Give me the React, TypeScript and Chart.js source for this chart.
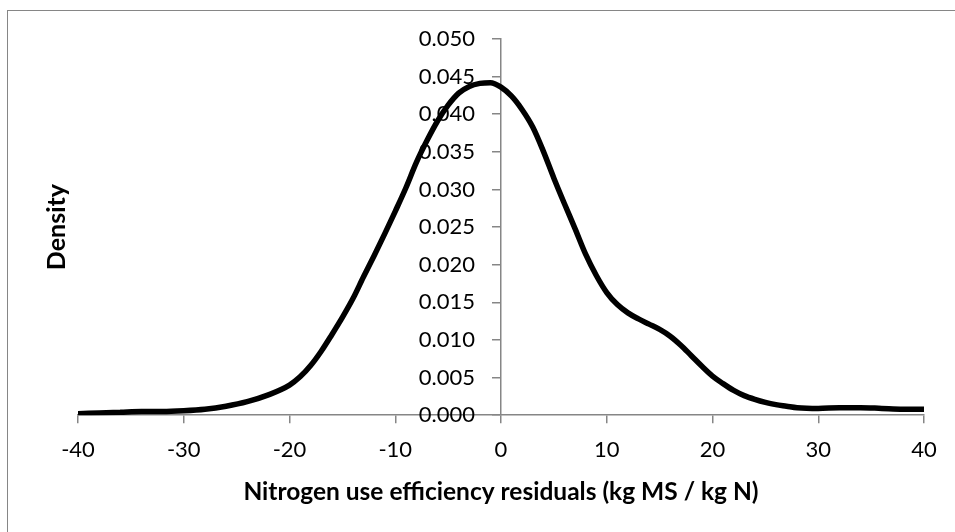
import React, { useEffect, useRef } from "react";
import { Chart, registerables } from "chart.js";

Chart.register(...registerables);

// Residual values (kg MS / kg N)
const residuals: number[] = [
  -40, -38, -36, -34, -32, -30, -28, -26, -24, -22, -20, -19, -18, -17, -16, -15,
  -14, -13, -12, -11, -10, -9, -8, -7, -6, -5, -4, -3, -2, -1, 0, 1, 2, 3, 4, 5, 6,
  7, 8, 9, 10, 11, 12, 13, 14, 15, 16, 17, 18, 19, 20, 21, 22, 23, 24, 25, 26, 27,
  28, 30, 32, 34, 36, 38, 40,
];

// Kernel density estimate
const density: number[] = [
  0.0002, 0.0003, 0.0004, 0.0005, 0.0005, 0.0006, 0.0008, 0.0012, 0.0018, 0.0027,
  0.004, 0.0051, 0.0066, 0.0085, 0.0107, 0.013, 0.0155, 0.0184, 0.0212, 0.0241,
  0.0271, 0.0302, 0.0336, 0.0365, 0.0391, 0.0412, 0.0428, 0.0437, 0.0441, 0.0442,
  0.0436, 0.0424, 0.0406, 0.0383, 0.0351, 0.0315, 0.0281, 0.0248, 0.0214, 0.0186,
  0.0163, 0.0147, 0.0136, 0.0128, 0.0121, 0.0114, 0.0105, 0.0093, 0.0079, 0.0065,
  0.0052, 0.0042, 0.0033, 0.0026, 0.0021, 0.0017, 0.0014, 0.0012, 0.001, 0.0009,
  0.001, 0.001, 0.0009, 0.0008, 0.0008,
];

const xTicks: number[] = [-40, -30, -20, -10, 0, 10, 20, 30, 40];
const yTicks: number[] = [0, 0.005, 0.01, 0.015, 0.02, 0.025, 0.03, 0.035, 0.04, 0.045, 0.05];

const xTitle = "Nitrogen use efficiency residuals (kg MS / kg N)";
const yTitle = "Density";

const FONT = "Lato";
const AXIS_GRAY = "#868686";

export default function App() {
  const canvasRef = useRef<HTMLCanvasElement>(null);

  useEffect(() => {
    if (!canvasRef.current) return;
    const chart = new Chart(canvasRef.current, {
      type: "line",
      data: {
        datasets: [
          {
            data: residuals.map((x, i) => ({ x, y: density[i] })),
            borderColor: "#000000",
            borderWidth: 5.5,
            pointRadius: 0,
            fill: false,
            cubicInterpolationMode: "monotone",
            yAxisID: "y",
            xAxisID: "x",
          },
        ],
      },
      options: {
        animation: false,
        responsive: false,
        maintainAspectRatio: false,
        layout: { padding: { left: 42, right: 31, top: 39, bottom: 25 } },
        plugins: { legend: { display: false }, tooltip: { enabled: false } },
        scales: {
          x: {
            type: "linear",
            position: "bottom",
            min: -40,
            max: 40,
            afterBuildTicks: (s: any) => {
              s.ticks = xTicks.map((v) => ({ value: v }));
            },
            ticks: {
              color: "#000",
              font: { family: FONT, size: 22 },
              padding: 14,
              maxRotation: 0,
              autoSkip: false,
            },
            grid: {
              display: true,
              drawOnChartArea: false,
              drawTicks: true,
              tickLength: 8,
              color: AXIS_GRAY,
              lineWidth: 1.5,
            },
            border: { display: true, color: AXIS_GRAY, width: 1.5 },
            title: {
              display: true,
              text: xTitle,
              color: "#000",
              font: { family: FONT, size: 24.5, weight: "bold" },
              padding: { top: 0, bottom: 0 },
            },
          },
          y: {
            type: "linear",
            position: "center",
            min: 0,
            max: 0.05,
            afterBuildTicks: (s: any) => {
              s.ticks = yTicks.map((v) => ({ value: v }));
            },
            ticks: {
              color: "#000",
              font: { family: FONT, size: 22 },
              padding: 18,
              autoSkip: false,
              callback: (v: any) => Number(v).toFixed(3),
            },
            grid: {
              display: true,
              drawOnChartArea: false,
              drawTicks: true,
              tickLength: 8,
              color: AXIS_GRAY,
              lineWidth: 1.5,
            },
            border: { display: true, color: AXIS_GRAY, width: 1.5 },
          },
          yTitleAxis: {
            type: "linear",
            position: "left",
            display: true,
            ticks: { display: false },
            grid: { display: false, drawTicks: false },
            border: { display: false },
            title: {
              display: true,
              text: yTitle,
              color: "#000",
              font: { family: FONT, size: 25, weight: "bold" },
              padding: { top: 0, bottom: 6 },
            },
          },
        },
      } as any,
    });
    return () => chart.destroy();
  }, []);

  return (
    <div
      style={{
        position: "fixed",
        left: 0,
        top: 0,
        width: 955,
        height: 532,
        overflow: "hidden",
        background: "#fff",
      }}
    >
      <div
        style={{
          position: "absolute",
          left: 7,
          top: 10,
          width: 1000,
          height: 600,
          borderTop: `1px solid ${AXIS_GRAY}`,
          borderLeft: `1px solid ${AXIS_GRAY}`,
          boxSizing: "border-box",
        }}
      />
      <canvas
        ref={canvasRef}
        width={955}
        height={532}
        style={{ position: "absolute", left: 0, top: 0, width: 955, height: 532 }}
      />
    </div>
  );
}
